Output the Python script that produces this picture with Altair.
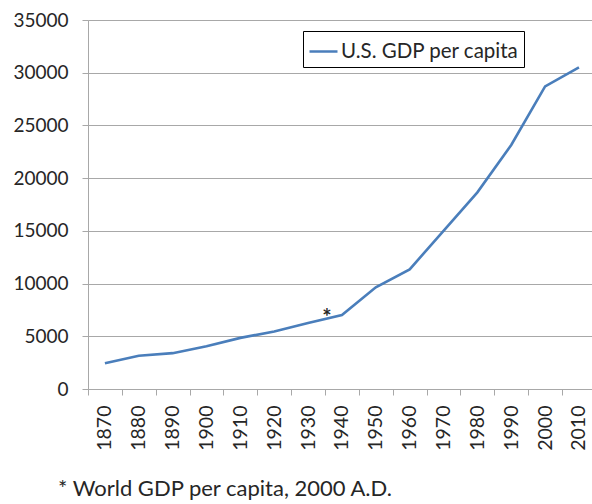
import altair as alt
import pandas as pd

# U.S. GDP per capita by decade
years = [1870, 1880, 1890, 1900, 1910, 1920, 1930, 1940,
         1950, 1960, 1970, 1980, 1990, 2000, 2010]
gdp = [2450, 3150, 3400, 4050, 4850, 5450, 6250, 7020,
       9650, 11350, 15000, 18650, 23150, 28700, 30500]
series_name = "U.S. GDP per capita"

# asterisk marking world GDP per capita in 2000
marker_year = [1935]
marker_value = [7300]
marker_text = ["*"]

footnote = ["* World GDP per capita, 2000 A.D."]

y_ticks = [0, 5000, 10000, 15000, 20000, 25000, 30000, 35000]
# category boundaries (ticks sit between decade labels)
x_bounds = [1865, 1875, 1885, 1895, 1905, 1915, 1925, 1935,
            1945, 1955, 1965, 1975, 1985, 1995, 2005]

FONT = "Lato"
TEXT = "#262626"
GRID = "#a8a8a8"

df = pd.DataFrame({"year": years, "gdp": gdp, "series": series_name})
df_mark = pd.DataFrame({"year": marker_year, "gdp": marker_value, "t": marker_text})
df_note = pd.DataFrame({"note": footnote})

x_scale = alt.Scale(domain=[1865, 2013.85], nice=False, zero=False)
y_scale = alt.Scale(domain=[0, 35000], nice=False)

x_axis = alt.Axis(
    values=x_bounds,
    labelExpr="'' + (datum.value + 5)",
    labelOffset=16.9,
    labelAngle=-90,
    labelAlign="right",
    labelBaseline="middle",
    labelOverlap=False,
    labelFlush=False,
    labelPadding=10,
    labelFont=FONT,
    labelFontSize=19.5,
    labelColor=TEXT,
    grid=False,
    tickSize=6,
    tickColor=GRID,
    domainColor=GRID,
    title=None,
)

y_axis = alt.Axis(
    values=y_ticks,
    format="d",
    labelPadding=14,
    labelFont=FONT,
    labelFontSize=19,
    labelColor=TEXT,
    grid=True,
    gridColor=GRID,
    gridWidth=1,
    tickSize=6,
    tickColor=GRID,
    domainColor=GRID,
    title=None,
)

line = alt.Chart(df).mark_line(strokeWidth=2.6).encode(
    x=alt.X("year:Q", scale=x_scale, axis=x_axis),
    y=alt.Y("gdp:Q", scale=y_scale, axis=y_axis),
    color=alt.Color(
        "series:N",
        scale=alt.Scale(range=["#4a7ebb"]),
        legend=alt.Legend(
            orient="none",
            legendX=215,
            legendY=11,
            title=None,
            strokeColor="#000000",
            fillColor="#ffffff",
            padding=5,
            symbolType="stroke",
            symbolSize=784,
            symbolStrokeWidth=2.5,
            labelFont=FONT,
            labelFontSize=20.5,
            labelColor=TEXT,
            labelOffset=2,
            labelLimit=400,
        ),
    ),
)

star = alt.Chart(df_mark).mark_text(
    font=FONT, fontSize=22, fontWeight="bold", color=TEXT, baseline="middle", dy=6, dx=2
).encode(
    x=alt.X("year:Q", scale=x_scale, axis=x_axis),
    y=alt.Y("gdp:Q", scale=y_scale, axis=y_axis),
    text="t:N",
)

note = alt.Chart(df_note).mark_text(
    font=FONT, fontSize=22, color=TEXT, align="left", baseline="alphabetic"
).encode(
    x=alt.value(-30),
    y=alt.value(476),
    text="note:N",
)

chart = alt.layer(line, star, note).properties(
    width=504,
    height=369,
    autosize=alt.AutoSizeParams(type="none"),
    padding={"left": 88, "top": 20, "right": 0, "bottom": 115},
).configure_view(stroke=None).configure_axis(
    labelOverlap=False
).configure(background="#ffffff")

chart.save("out.html", embed_options={"renderer": "svg", "actions": False})
